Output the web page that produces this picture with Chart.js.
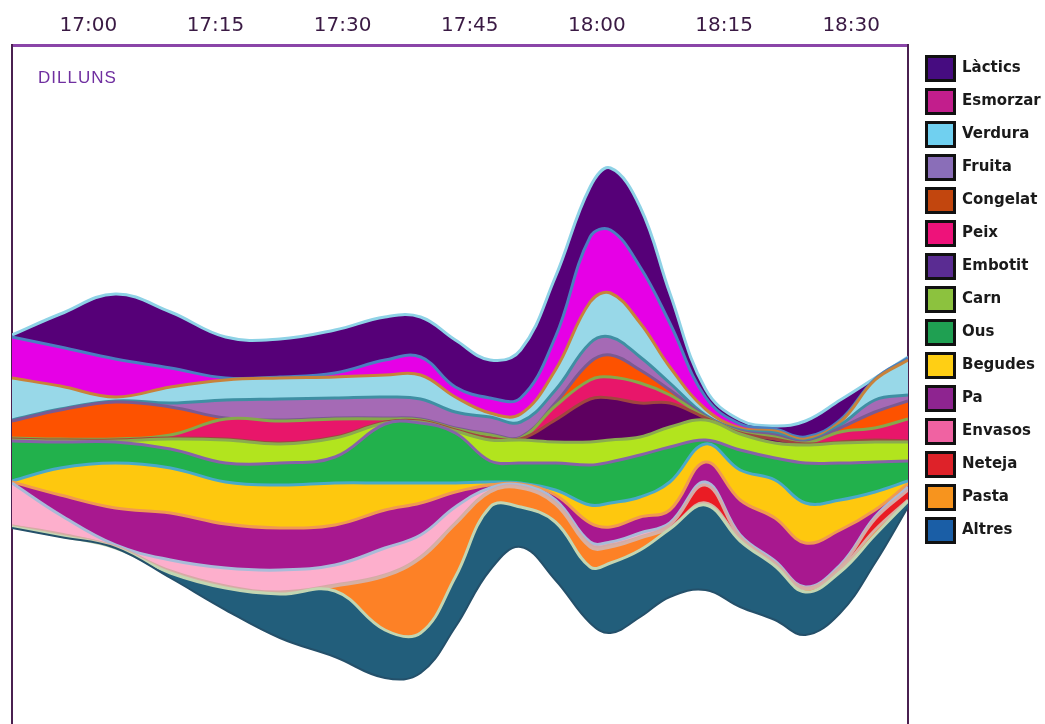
<!DOCTYPE html>
<html><head><meta charset="utf-8">
<script src="https://cdn.jsdelivr.net/npm/chart.js@4.4.1/dist/chart.umd.min.js"></script>
<style>
html,body{margin:0;padding:0;background:#fff;overflow:hidden;width:1045px;height:724px;}
#wrap{width:1045px;height:745px;}
</style></head><body>
<div id="wrap"><canvas id="c" width="1045" height="745"></canvas></div>
<script>
const dayLabel = 'DILLUNS';
const tickLabels = ['17:00','17:15','17:30','17:45','18:00','18:15','18:30'];
const tickMinutes = [0,15,30,45,60,75,90];
// sample times, minutes after 17:00
const sampleMinutes = [-9,-3.3,3.2,9.7,16.2,22.6,29.1,35,39.2,43.3,47.4,51,55.1,59.2,61.6,65.1,68.6,72.8,76.9,81,84.6,88.7,92.8,96.7];
// lower edge (offset) of the stream
const streamBase = [21.7,20.8,19.7,16.7,13.5,10.7,8.8,6.7,7.2,11.8,17.5,19.8,16.5,12.2,11.2,12.8,14.8,15.5,13.8,12.5,11.0,13.2,18.2,23.8];
const altres   = [0.1,0.1,0.0,0.5,2.2,4.4,6.6,4.8,4.0,5.0,6.3,4.0,5.8,5.6,7.0,6.7,6.8,8.5,6.6,5.4,4.3,4.1,2.8,0.6];
const pasta    = [0.1,0.1,0.1,0.1,0.1,0.1,0.5,5.4,7.5,5.3,1.5,1.9,1.8,2.0,1.6,1.2,0.1,0.2,0.2,0.2,0.3,0.3,0.5,0.1];
const neteja   = [0,0.1,0,0.1,0.1,0.1,0.1,0.1,0.1,0.1,0.1,0.1,0.1,0.2,0.2,0.1,0.3,1.8,0.2,0.1,0.1,0.2,1.1,1.0];
const envasos  = [4.3,1.9,0.2,1.1,1.8,2.2,2.0,2.7,2.2,1.6,0.3,0.2,0.3,0.3,0.3,0.4,0.2,0.3,0.2,0.2,0.1,0.2,0.2,0.3];
const pa       = [0.1,2.0,3.7,4.7,4.4,4.2,4.0,3.8,3.2,1.5,0.3,0.1,0.5,1.9,1.5,1.6,1.3,2.0,3.5,4.3,4.4,3.5,0.7,0.3];
const begudes  = [0.1,2.7,4.5,4.5,4.2,4.3,4.2,2.7,2.0,0.9,0.3,0.1,0.5,1.8,2.4,2.0,2.8,1.8,3.0,3.8,4.0,3.0,1.8,0.3];
const ous      = [4.0,2.6,2.1,1.9,1.9,2.2,2.6,5.9,6.0,5.0,2.1,2.0,2.7,4.0,4.1,4.2,3.5,0.4,2.0,2.2,4.0,3.7,3.0,2.0];
const carn     = [0.1,0.1,0.1,1.0,2.3,1.9,1.9,0.1,0.1,0.2,2.1,2.3,2.1,2.3,2.2,1.8,2.0,2.0,1.6,1.5,1.8,2.0,2.0,1.9];
const embotit  = [0.1,0.1,0.1,0.1,0.1,0.1,0.1,0.1,0.1,0.1,0.2,0.1,2.2,4.3,4.2,3.4,2.4,0.2,0.1,0.4,0.1,0.1,0.2,0.1];
const peix     = [0.1,0.1,0.1,0.3,2.0,2.2,1.8,0.3,0.1,0.1,0.3,0.1,1.4,1.9,2.1,2.0,0.8,0.1,0.1,0.2,0.1,1.0,1.2,2.2];
const congelat = [1.7,2.9,3.7,2.8,0.1,0.1,0.1,0.1,0.1,0.1,0.1,0.1,0.3,1.8,2.2,1.3,0.5,0.1,0.1,0.2,0.1,0.4,1.6,1.8];
const fruita   = [0.1,0.1,0.1,0.4,1.8,2.1,2.0,2.1,2.0,1.6,1.7,1.5,1.3,1.9,1.8,1.3,0.7,0.1,0.1,0.2,0.1,0.3,1.2,0.6];
const verdura  = [4.2,2.3,0.4,1.6,2.0,2.1,2.1,2.2,2.4,1.5,0.4,0.8,2.0,4.1,4.4,3.4,1.6,0.6,0.2,0.2,0.2,0.3,2.0,3.5];
const esmorzar = [4.1,3.9,3.8,1.9,0.2,0.1,0.4,1.5,1.8,1.0,1.5,1.6,3.3,6.5,6.3,5.6,4.4,1.2,0.4,0.2,0.2,0.2,0.1,0.2];
const lactics  = [0.2,3.3,6.5,5.6,4.1,3.8,4.3,4.3,4.0,4.7,3.8,4.8,6.0,5.0,6.2,6.0,3.0,0.8,0.4,0.3,1.6,2.0,0.1,0.1];

// bottom-to-top stacking order
const layers = [
  {label:'Altres',   values:altres,   fill:'#225e7b', line:'#c3d6b2', legend:'#1a5ea6'},
  {label:'Pasta',    values:pasta,    fill:'#fd8126', line:'#d6b0a4', legend:'#f7941e'},
  {label:'Neteja',   values:neteja,   fill:'#ea1c24', line:'#d4aaa6', legend:'#de2229'},
  {label:'Envasos',  values:envasos,  fill:'#fdafcc', line:'#a9bbd8', legend:'#f062a2'},
  {label:'Pa',       values:pa,       fill:'#a8188f', line:'#f09a50', legend:'#8e2490'},
  {label:'Begudes',  values:begudes,  fill:'#fec80e', line:'#4aa9c9', legend:'#ffcf14'},
  {label:'Ous',      values:ous,      fill:'#22b14c', line:'#8762a8', legend:'#1fa052'},
  {label:'Carn',     values:carn,     fill:'#b2e41e', line:'#8aab4e', legend:'#8cc23e'},
  {label:'Embotit',  values:embotit,  fill:'#5e0060', line:'#a0463f', legend:'#5a2c92'},
  {label:'Peix',     values:peix,     fill:'#e8166a', line:'#86a84a', legend:'#ee127a'},
  {label:'Congelat', values:congelat, fill:'#fd5200', line:'#7a5a92', legend:'#c2460e'},
  {label:'Fruita',   values:fruita,   fill:'#a56ab5', line:'#3f8fa3', legend:'#8a6eb8'},
  {label:'Verdura',  values:verdura,  fill:'#98d8e8', line:'#c8823a', legend:'#70d0f0'},
  {label:'Esmorzar', values:esmorzar, fill:'#e600e6', line:'#4a7fc0', legend:'#c21e8c'},
  {label:'Làctics',  values:lactics,  fill:'#560078', line:'#8ed2e6', legend:'#460c80'}
];

const toPts = arr => arr.map((v,i)=>({x:sampleMinutes[i], y:v}));
const datasets = [{
  label:'', data:toPts(streamBase), fill:false, borderColor:'#24506a', borderWidth:2, pointRadius:0
}].concat(layers.map(l=>({
  label:l.label, data:toPts(l.values), fill:'-1', backgroundColor:l.fill, borderColor:l.line,
  borderWidth:3, pointRadius:0, legendColor:l.legend
})));

const labelPlugin = {
  id:'dayLabel',
  afterDraw(chart){
    const {ctx, chartArea} = chart;
    ctx.save();
    ctx.font = '17px "Liberation Sans", Arial, sans-serif';
    if ('letterSpacing' in ctx) ctx.letterSpacing = '1px';
    ctx.fillStyle = '#7030a0';
    ctx.textBaseline = 'alphabetic';
    ctx.fillText(dayLabel, chartArea.left + 26, chartArea.top + 38);
    ctx.restore();
  }
};

new Chart(document.getElementById('c'), {
  type:'line',
  data:{datasets},
  options:{
    responsive:false, animation:false, events:[], devicePixelRatio:1,
    layout:{padding:0},
    elements:{point:{radius:0}, line:{tension:0.4, cubicInterpolationMode:'default'}},
    plugins:{
      tooltip:{enabled:false},
      legend:{
        position:'right', align:'start', maxWidth:127.5,
        title:{display:true, text:'', font:{size:10}, padding:{top:35.5, bottom:0}},
        labels:{
          boxWidth:28, boxHeight:24, padding:9, color:'#1a1a1a',
          font:{family:'"DejaVu Sans", Verdana, sans-serif', size:15, weight:'bold'},
          generateLabels(chart){
            return chart.data.datasets.map((d,i)=>({
              text:d.label, fillStyle:d.legendColor, strokeStyle:'#111', lineWidth:3,
              hidden:false, datasetIndex:i, fontColor:'#1a1a1a'
            })).filter(l=>l.fillStyle).reverse();
          }
        }
      }
    },
    scales:{
      x:{
        type:'linear', position:'top', min:-9, max:96.7,
        grid:{display:false, drawTicks:false},
        border:{display:true, color:'#8a45a8', width:3},
        afterBuildTicks(s){ s.ticks = tickMinutes.map(v=>({value:v})); },
        afterFit(s){ s.height = 45; },
        ticks:{
          padding:7, color:'#3a1a44', autoSkip:false, maxRotation:0,
          font:{family:'"DejaVu Sans", Verdana, sans-serif', size:20},
          callback:(v)=>tickLabels[tickMinutes.indexOf(v)]
        }
      },
      y:{
        stacked:true, min:0, max:70, position:'left',
        grid:{display:false, drawTicks:false}, ticks:{display:false},
        border:{display:true, color:'#4a2050', width:2},
        afterFit(s){ s.width = 12; }
      },
      y2:{
        position:'right', min:0, max:1,
        grid:{display:false, drawTicks:false}, ticks:{display:false},
        border:{display:true, color:'#4a2050', width:2},
        afterFit(s){ s.width = 9.5; }
      }
    }
  },
  plugins:[labelPlugin]
});
</script>
</body></html>
